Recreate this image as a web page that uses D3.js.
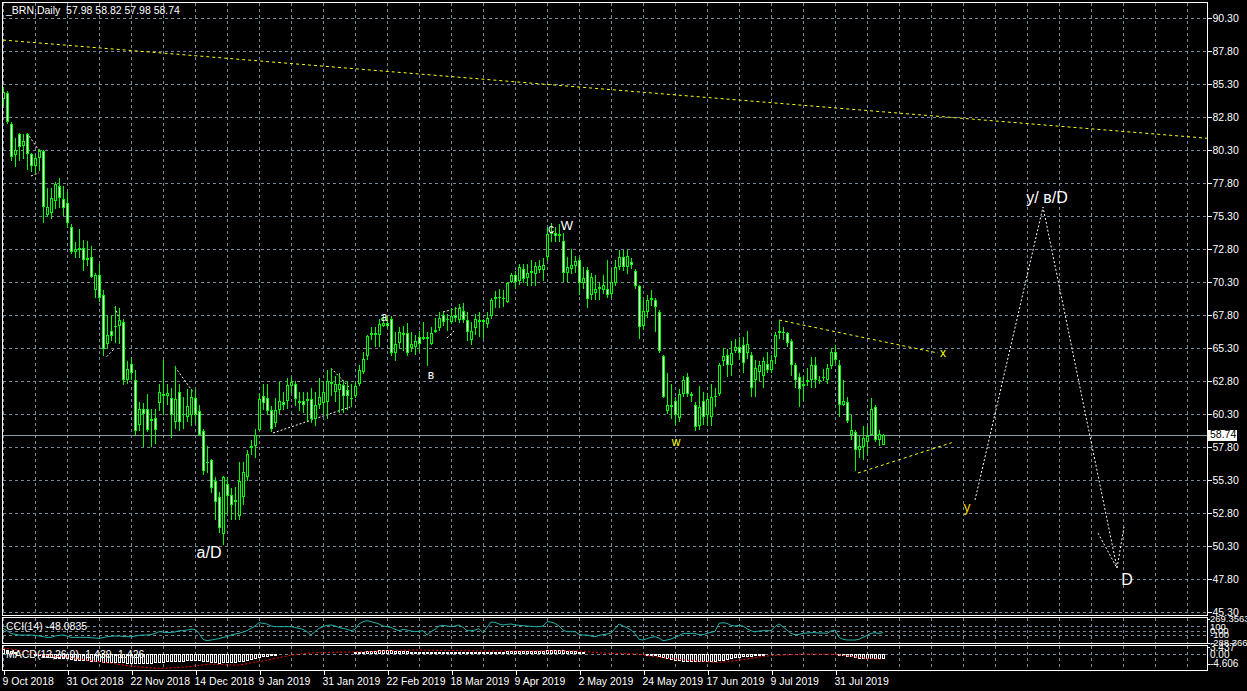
<!DOCTYPE html>
<html><head><meta charset="utf-8">
<script src="https://cdn.jsdelivr.net/npm/d3@7"></script>
<style>html,body{margin:0;padding:0;background:#000;overflow:hidden}</style>
</head><body><svg id="c" width="1247" height="691"></svg>
<script>
// ---------- DATA ----------
const title = "_BRN,Daily  57.98 58.82 57.98 58.74";
const cciLabel = "CCI(14) -48.0835";
const macdLabel = "MACD(12,26,9) -1.439 -1.426";
const lastPrice = 58.74;
// daily bars [open, high, low, close], first bar = 9 Oct 2018
const ohlc = [
[84.2,85.1,83.6,84.7],[84.6,84.8,82.3,82.4],[82.3,82.4,79.5,79.8],[79.9,81.2,79.0,80.3],[81.5,81.6,79.5,80.5],
[80.6,81.5,79.6,81.0],[81.5,81.6,78.8,80.0],[80.0,80.1,78.6,79.1],[79.1,80.0,78.5,79.7],[79.7,80.4,78.7,80.2],
[80.2,80.3,74.8,76.0],[75.4,77.4,75.2,76.0],[75.5,77.4,75.1,76.7],[76.4,77.9,75.8,77.7],[77.6,78.2,75.9,76.7],
[76.6,77.6,75.3,75.9],[76.3,77.1,74.4,74.8],[74.5,74.7,72.4,72.6],[72.6,73.3,72.1,72.8],[72.7,74.3,72.1,72.9],
[72.9,73.5,71.1,72.0],[72.1,73.4,71.5,72.0],[72.2,73.0,70.6,70.7],[69.7,71.0,69.1,70.8],[70.8,71.7,68.8,69.1],
[69.3,69.7,64.7,65.2],[65.6,67.8,65.3,66.3],[66.6,67.8,65.8,66.2],[67.0,68.5,65.7,66.9],[67.0,68.3,65.6,67.4],
[67.3,67.5,62.5,62.9],[62.9,64.3,62.6,63.7],[64.1,64.6,62.9,63.4],[62.9,63.6,58.6,59.0],[59.5,61.2,59.0,60.7],
[60.7,61.1,57.8,60.3],[60.7,61.8,58.9,59.1],[59.8,60.7,57.8,59.9],[60.0,60.7,58.0,59.1],[61.1,62.6,60.5,62.0],
[61.8,64.4,60.2,61.7],[61.7,62.6,61.0,61.9],[61.5,62.3,58.5,60.2],[59.7,63.9,59.2,61.4],[62.0,62.6,59.0,59.7],
[60.2,61.6,59.2,60.3],[60.1,62.2,59.7,60.9],[60.2,62.2,59.4,61.6],[61.5,62.2,59.6,60.2],[60.5,61.0,58.6,58.7],
[59.0,59.2,55.7,56.0],[56.7,57.9,55.8,56.6],[56.8,56.9,54.3,54.7],[55.2,55.5,52.3,53.6],[54.0,54.4,51.3,51.7],
[51.2,55.6,50.4,55.5],[55.0,55.5,52.7,54.1],[54.2,54.7,52.3,53.4],[53.8,54.8,52.3,53.6],[52.6,56.7,52.3,55.2],
[54.0,56.7,53.4,55.9],[55.5,57.6,55.2,57.3],[57.7,58.3,57.2,57.9],[57.9,59.2,57.0,58.7],[59.1,61.9,59.0,61.4],
[61.7,62.6,60.6,61.1],[61.5,62.6,60.2,60.5],[60.6,60.9,58.9,59.2],[59.6,61.5,59.3,60.6],[60.6,62.7,60.3,61.3],
[61.2,62.0,60.6,61.0],[61.3,63.0,60.7,62.5],[62.4,63.1,61.9,62.7],[62.6,62.8,60.9,61.4],[61.1,62.0,60.5,61.3],
[61.3,62.0,60.4,61.0],[61.3,62.0,59.8,61.4],[61.4,62.3,59.6,59.9],[59.9,62.0,59.4,61.0],[61.0,63.0,60.7,61.6],
[61.1,62.8,60.3,62.0],[61.2,63.6,59.9,62.8],[62.6,63.8,61.7,62.7],[62.0,63.2,61.2,62.6],[62.1,63.4,60.4,62.6],
[62.5,62.9,60.4,61.7],[62.1,62.8,60.6,61.7],[61.5,62.6,60.8,61.4],[61.7,62.7,61.5,62.4],[62.6,64.0,62.4,63.6],
[63.5,65.0,63.3,64.5],[64.7,66.3,64.4,66.2],[66.3,66.9,65.9,66.4],[66.4,66.9,65.4,66.3],[66.3,67.5,65.4,67.1],
[67.0,67.7,66.9,67.2],[67.2,67.7,66.8,67.0],[67.5,67.7,64.7,64.9],[64.9,66.5,64.3,65.6],[65.7,66.9,65.3,66.5],
[66.3,67.0,65.1,66.4],[66.4,67.2,64.7,64.9],[65.3,66.5,65.0,65.6],[65.4,66.3,64.8,65.8],[66.1,66.6,65.0,65.6],
[66.0,67.3,65.9,66.1],[66.1,66.5,63.9,66.0],[65.6,66.9,65.5,66.4],[66.5,67.6,66.4,66.7],[66.8,68.0,66.6,67.6],
[67.8,68.1,67.0,67.3],[67.4,67.9,66.6,67.5],[67.3,68.3,67.1,67.7],[67.8,68.4,67.3,67.6],[67.4,68.6,67.2,68.3],
[68.1,68.7,67.2,67.4],[67.4,68.0,65.8,66.5],[65.9,67.3,65.5,66.6],[66.8,67.9,66.3,67.5],[67.4,68.0,66.1,67.3],
[67.3,67.5,66.0,67.4],[67.1,68.0,66.8,67.6],[67.7,69.1,67.5,68.9],[69.0,69.6,68.3,69.2],[69.2,69.8,68.3,69.1],
[69.1,69.7,68.4,69.0],[68.8,70.3,68.7,70.2],[70.3,71.0,70.2,70.8],[70.8,71.1,69.8,70.3],[70.4,71.7,70.1,71.4],
[71.3,71.7,70.2,70.5],[70.6,71.7,70.0,71.0],[71.0,72.0,70.0,71.1],[70.9,71.8,70.0,71.5],[71.2,72.0,71.0,71.5],
[71.2,72.1,70.4,71.6],[72.2,74.5,71.9,73.9],[73.9,74.8,73.3,74.1],[74.0,74.5,73.3,73.8],[73.9,74.7,73.3,73.8],
[73.4,74.0,70.3,71.0],[71.0,72.2,70.3,71.4],[71.3,72.8,70.9,71.6],[71.5,72.3,71.0,71.9],[72.0,72.2,69.3,70.2],
[70.2,71.4,69.8,70.6],[71.2,71.4,68.3,69.0],[69.3,71.0,68.9,70.7],[69.5,70.8,68.9,69.8],[69.8,70.3,68.9,69.9],
[69.7,70.8,69.4,70.1],[69.8,72.0,69.1,69.3],[69.4,71.3,69.1,70.3],[70.2,72.0,70.0,71.4],[71.4,72.7,71.2,72.2],
[72.2,72.7,71.1,71.4],[71.4,72.7,70.9,72.3],[71.8,72.1,71.3,71.6],[71.1,71.3,69.8,70.0],[70.0,70.1,66.0,66.9],
[67.0,68.9,66.7,68.1],[68.0,69.3,67.6,68.9],[68.9,69.7,68.5,69.1],[68.9,69.1,66.5,68.4],[68.0,68.2,64.9,65.1],
[64.7,64.8,61.5,61.6],[60.5,63.4,60.3,61.0],[61.0,62.6,59.9,60.8],[61.3,61.6,59.5,60.2],[60.0,62.2,59.7,61.8],
[61.8,63.2,61.6,62.9],[63.1,63.4,61.6,61.8],[61.8,62.0,61.2,61.7],[61.0,61.2,59.0,59.3],[59.4,62.4,59.1,60.8],
[61.3,62.0,59.5,60.1],[60.2,61.9,59.4,61.4],[60.1,62.6,59.4,61.6],[61.6,62.3,60.8,61.7],[61.8,64.2,61.7,64.0],
[64.3,65.3,63.9,64.7],[64.8,65.2,63.1,64.0],[64.0,65.8,63.2,64.9],[65.1,66.0,64.9,65.4],[65.4,66.1,64.4,64.9],
[65.5,66.1,63.4,64.2],[64.9,66.6,64.5,65.6],[64.8,65.0,61.6,62.3],[62.9,64.4,61.6,63.8],[63.5,64.3,62.7,64.0],
[63.2,64.6,62.3,64.3],[64.1,65.0,63.4,63.6],[63.6,64.8,63.4,64.4],[64.6,66.5,64.1,66.3],[66.4,67.4,66.0,66.6],
[66.5,66.9,65.9,66.4],[66.4,66.5,65.4,65.7],[65.8,66.0,63.2,64.0],[64.0,64.2,62.3,62.9],[63.1,63.4,60.8,62.2],
[62.4,63.2,61.3,62.6],[62.7,63.8,62.4,62.9],[62.9,64.6,62.3,64.0],[64.0,64.6,62.3,62.9],[62.9,63.2,62.6,62.8],
[63.0,63.7,62.8,63.1],[62.9,64.1,62.6,63.8],[63.9,65.3,63.7,65.0],[65.0,65.5,64.2,64.4],[64.0,64.4,60.1,61.0],
[61.0,62.9,60.9,61.3],[61.2,61.6,59.6,59.8],[58.7,60.2,58.3,59.1],[58.9,59.1,56.0,57.6],[57.6,58.6,57.0,57.9],
[57.8,59.4,56.8,58.5],[58.2,59.4,57.3,58.6],[58.7,61.5,58.7,60.7],[60.8,61.0,58.2,58.3],[58.3,59.1,57.9,58.8],
[57.98,58.82,57.98,58.74]
];
const cci = [
52,-2,-64,-87,-103,-103,-103,-103,-111,-126,-142,-157,-157,-126,-111,-103,-126,-157,-157,-157,
-157,-157,-165,-173,-180,-165,-142,-134,-126,-126,-134,-142,-142,-126,-111,-103,-103,-95,-64,-25,
-33,-49,-41,-33,-2,-2,13,29,29,-64,-203,-235,-219,-203,-188,-157,-142,-103,-80,-64,
-33,-2,52,106,184,168,153,106,91,91,91,91,91,75,52,29,-25,-103,-25,52,
91,122,130,106,75,52,29,-2,29,153,207,230,207,184,153,106,91,75,29,-2,
29,13,-10,-25,-18,-2,-103,-25,29,106,122,106,91,106,130,75,-2,-2,13,44,
-49,75,199,192,153,130,145,153,130,122,114,106,99,91,91,106,207,199,168,106,
13,-25,-25,-25,-87,-103,-103,-126,-142,-111,-95,-80,-56,44,153,106,68,13,-64,-203,
-219,-188,-157,-142,-173,-235,-219,-196,-157,-118,-64,-64,-64,-64,-95,-95,-64,-41,-18,168,
184,168,122,106,122,106,44,-2,-33,-10,-2,-2,-2,91,153,91,13,-64,-95,-87,
-64,-56,-49,-49,-56,-56,-64,-10,13,-157,-203,-219,-219,-219,-203,-157,-111,-64,-49,-64,-48
];
const macd = [
2.4,2.0,1.6,1.2,0.8,0.4,0.0,-0.4,-0.8,-1.1,-1.5,-1.8,-2.0,-2.2,-2.3,-2.4,
-2.6,-2.9,-3.1,-3.3,-3.4,-3.5,-3.7,-3.9,-4.0,-4.3,-4.4,-4.4,-4.4,-4.4,-4.5,-4.6,
-4.7,-4.9,-4.9,-4.8,-4.7,-4.6,-4.4,-4.2,-4.1,-4.0,-3.9,-3.8,-3.7,-3.6,-3.5,-3.4,
-3.4,-3.5,-3.8,-4.0,-4.2,-4.4,-4.6,-4.4,-4.4,-4.3,-4.2,-3.9,-3.6,-3.2,-2.8,-2.4,
-1.9,-1.5,-1.2,-1.0,-0.8,-0.6,-0.4,-0.2,0.0,0.1,0.2,0.2,0.3,0.3,0.3,0.4,
0.5,0.6,0.7,0.7,0.8,0.8,0.8,0.8,0.9,1.0,1.2,1.4,1.6,1.7,1.8,1.9,
1.9,1.8,1.7,1.6,1.5,1.4,1.3,1.2,1.2,1.1,1.1,1.1,1.1,1.2,1.2,1.2,
1.2,1.2,1.3,1.3,1.2,1.1,1.1,1.1,1.1,1.1,1.2,1.3,1.3,1.3,1.4,1.5,
1.5,1.5,1.6,1.6,1.6,1.6,1.6,1.6,1.8,1.9,2.0,2.0,1.8,1.6,1.5,1.4,
1.2,1.0,0.8,0.6,0.5,0.4,0.3,0.2,0.2,0.3,0.4,0.4,0.4,0.3,0.1,-0.3,
-0.6,-0.8,-0.9,-1.1,-1.5,-2.1,-2.6,-3.0,-3.3,-3.5,-3.6,-3.7,-3.8,-3.9,-4.0,-4.0,
-4.0,-3.9,-3.8,-3.5,-3.1,-2.8,-2.5,-2.1,-1.8,-1.6,-1.3,-1.2,-1.1,-0.9,-0.7,-0.6,
-0.5,-0.2,0.0,0.1,0.1,0.0,-0.2,-0.3,-0.4,-0.5,-0.5,-0.5,-0.6,-0.6,-0.5,-0.4,
-0.4,-0.7,-1.0,-1.3,-1.6,-2.0,-2.3,-2.4,-2.5,-2.5,-2.4,-2.4,-2.3
];
const signal = [
2.8,2.7,2.5,2.2,1.9,1.5,1.1,0.7,0.3,-0.1,-0.4,-0.7,-0.9,-1.1,-1.2,-1.3,
-1.4,-1.7,-2.0,-2.3,-2.6,-2.9,-3.1,-3.4,-3.6,-3.9,-4.2,-4.4,-4.7,-5.0,-5.3,-5.6,
-5.8,-6.0,-6.2,-6.4,-6.5,-6.7,-6.8,-6.9,-6.9,-6.8,-6.7,-6.6,-6.5,-6.3,-6.2,-6.0,
-5.7,-5.5,-5.2,-5.0,-4.8,-4.9,-5.0,-5.1,-5.2,-5.3,-5.3,-5.3,-5.0,-4.6,-4.2,-3.9,
-3.7,-3.3,-2.9,-2.5,-2.1,-1.7,-1.3,-0.9,-0.5,-0.2,0.1,0.3,0.5,0.6,0.6,0.7,
0.7,0.8,0.8,0.9,0.9,1.0,1.0,1.1,1.1,1.1,1.2,1.2,1.3,1.4,1.5,1.6,
1.7,1.8,1.8,1.9,1.9,2.0,2.0,2.0,2.0,2.0,1.9,1.9,1.9,1.8,1.8,1.8,
1.8,1.7,1.7,1.7,1.7,1.7,1.6,1.6,1.6,1.6,1.6,1.6,1.6,1.6,1.6,1.6,
1.6,1.6,1.6,1.6,1.6,1.6,1.6,1.6,1.6,1.6,1.6,1.6,1.6,1.6,1.6,1.6,
1.6,1.4,1.2,1.0,0.8,0.7,0.6,0.5,0.4,0.4,0.3,0.3,0.2,0.2,0.1,0.0,
-0.3,-0.6,-0.9,-1.2,-1.5,-1.8,-2.0,-2.2,-2.4,-2.6,-2.8,-2.9,-3.1,-3.2,-3.4,-3.5,
-3.7,-3.8,-4.0,-3.9,-3.8,-3.7,-3.5,-3.2,-2.9,-2.6,-2.3,-2.0,-1.7,-1.4,-1.1,-0.9,
-0.7,-0.6,-0.5,-0.4,-0.3,-0.2,-0.1,0.0,0.0,0.0,0.0,0.0,0.0,0.0,0.0,0.0,
-0.2,-0.4,-0.6,-0.8,-1.0,-1.3,-1.6,-1.8,-2.0,-2.1,-2.3,-2.4,-2.5
];
const priceTicks = [90.30,87.80,85.30,82.80,80.30,77.80,75.30,72.80,70.30,67.80,65.30,62.80,60.30,57.80,55.30,52.80,50.30,47.80,45.30];
const dateLabels = ["9 Oct 2018","31 Oct 2018","22 Nov 2018","14 Dec 2018","9 Jan 2019","31 Jan 2019","22 Feb 2019","18 Mar 2019","9 Apr 2019","2 May 2019","24 May 2019","17 Jun 2019","9 Jul 2019","31 Jul 2019"];
const dateLabelBars = [0,16,32,48,64,80,96,112,128,144,160,176,192,208];
const cciLevels = [100,0,-100];
const cciAxisLabels = [["269.3563",269.3563],["100",100],["0.00",0],["-100",-100],["-288.366",-288.366]];
const macdAxisLabels = [["3.437",3.437],["0.00",0],["-4.606",-4.606]];
// drawn objects in [bar index, price]
const yellowTrends = [
  [[0,88.63],[301,81.19]],
  [[194,67.42],[233.75,64.92]],
  [[213.75,55.83],[237.2,58.13]]
];
const whiteWaveLines = [
  [[6,81.59],[9.25,80.15]],[[7,78.33],[9,78.58]],[[28,68.41],[29.4,67.19]],[[25.9,64.64],[28,65.30]],
  [[43,63.86],[47.5,61.97]],[[67.5,58.86],[86.75,60.83]],[[82,63.78],[86.75,62.27]],
  [[110,68.03],[115,68.41]],[[111,66.06],[113,66.66]]
];
const projection = [
  [[243,53.78],[260,75.98],[278.5,48.63]],
  [[273.75,51.28],[278.5,48.63],[280.25,51.74]]
];
const waveLabels = [
  {t:"a/D", i:51.5, p:49.85, kind:"big"},
  {t:"c", i:137, p:74.30, kind:"small"},
  {t:"W", i:141, p:74.55, kind:"mid"},
  {t:"a", i:95.25, p:67.65, kind:"small"},
  {t:"в", i:107, p:63.30, kind:"small"},
  {t:"w", i:168.25, p:58.18, kind:"yellow"},
  {t:"x", i:235, p:64.92, kind:"yellow"},
  {t:"y", i:241, p:53.26, kind:"yellowBig"},
  {t:"y/ в/D", i:261, p:76.74, kind:"big"},
  {t:"D", i:281, p:47.80, kind:"big"}
];

// ---------- DRAW ----------
const FONT = "Liberation Sans, Arial, sans-serif";
const svg = d3.select("#c");
svg.append("rect").attr("width",1247).attr("height",691).attr("fill","#000");

const x = d3.scaleLinear().domain([0,301]).range([3,1207]);
const y = d3.scaleLinear().domain([45.30,90.30]).range([612,18]);
const yC = d3.scaleLinear().domain([-288.366,269.3563]).range([643,619]);
const yM = d3.scaleLinear().domain([-7,3.5]).range([668.5,647]);
const px = v => Math.round(v)+0.5;

const panels = [[3,615],[618,643],[646,670]];
const gridColor = "#778899";
const grid = svg.append("g").attr("stroke",gridColor).attr("stroke-dasharray","3,3").attr("shape-rendering","crispEdges");
d3.range(0,297,8).forEach(i=>{
  panels.forEach(([a,b])=>{
    grid.append("line").attr("x1",px(x(i))).attr("x2",px(x(i))).attr("y1",a).attr("y2",b);
  });
});
priceTicks.forEach(p=>{
  grid.append("line").attr("x1",3).attr("x2",1207).attr("y1",px(y(p))).attr("y2",px(y(p)));
});
cciLevels.forEach(v=>{
  grid.append("line").attr("x1",3).attr("x2",1207).attr("y1",px(yC(v))).attr("y2",px(yC(v)));
});
grid.append("line").attr("x1",3).attr("x2",1207).attr("y1",px(yM(0))).attr("y2",px(yM(0)));

// last price line
svg.append("line").attr("x1",3).attr("x2",1207).attr("y1",px(y(lastPrice))).attr("y2",px(y(lastPrice)))
  .attr("stroke","#8a9aaa").attr("shape-rendering","crispEdges");

const line = d3.line().x(d=>x(d[0])).y(d=>y(d[1]));
svg.append("clipPath").attr("id","cm").append("rect").attr("x",3).attr("y",3).attr("width",1204).attr("height",612);
const gMain = svg.append("g").attr("clip-path","url(#cm)");
yellowTrends.forEach(t=>{
  gMain.append("path").attr("d",line(t)).attr("fill","none").attr("stroke","#ffff00").attr("stroke-width",1).attr("stroke-dasharray","3,3");
});
whiteWaveLines.forEach(t=>{
  gMain.append("path").attr("d",line(t)).attr("fill","none").attr("stroke","#ffffff").attr("stroke-width",1).attr("stroke-dasharray","2,2");
});
projection.forEach(t=>{
  gMain.append("path").attr("d",line(t)).attr("fill","none").attr("stroke","#ffffff").attr("stroke-width",1).attr("stroke-dasharray","2,2");
});

// candles
const gC = gMain.append("g").attr("shape-rendering","crispEdges");
ohlc.forEach((d,i)=>{
  const [o,h,l,c] = d;
  const cx = Math.round(x(i));
  const yh = Math.round(y(h)), yl = Math.round(y(l));
  gC.append("rect").attr("x",cx).attr("y",yh).attr("width",1).attr("height",Math.max(1,yl-yh)).attr("fill","#00ff00");
  const yt = Math.round(y(Math.max(o,c))), yb = Math.round(y(Math.min(o,c)));
  const bh = Math.max(1,yb-yt);
  gC.append("rect").attr("x",cx-1).attr("y",yt).attr("width",3).attr("height",bh).attr("fill","#00ff00");
  if (bh>=3) {
    gC.append("rect").attr("x",cx).attr("y",yt+1).attr("width",1).attr("height",bh-2)
      .attr("fill", c<o ? "#ffffff" : "#000000");
  }
});

// wave labels
const labelStyle = {
  big:{size:16,color:"#ffffff"}, mid:{size:13,color:"#ffffff"}, small:{size:12,color:"#ffffff"},
  yellow:{size:12,color:"#ffff00"}, yellowBig:{size:14,color:"#e8d000"}
};
waveLabels.forEach(l=>{
  const s = labelStyle[l.kind];
  svg.append("text").attr("x",x(l.i)).attr("y",y(l.p)).attr("dy","0.35em").attr("text-anchor","middle")
    .attr("font-family",FONT).attr("font-size",s.size).attr("fill",s.color).text(l.t);
});

// CCI line
svg.append("path").datum(cci).attr("d",d3.line().x((d,i)=>x(i)).y(d=>yC(d)))
  .attr("fill","none").attr("stroke","#20b2aa").attr("stroke-width",1);

// MACD histogram
const gM = svg.append("g").attr("shape-rendering","crispEdges");
macd.forEach((v,i)=>{
  const cx = Math.round(x(i));
  const y0 = Math.round(yM(0)), y1 = Math.round(yM(v));
  const top = Math.min(y0,y1), hh = Math.abs(y1-y0);
  if (hh<1) return;
  gM.append("rect").attr("x",cx-0.5).attr("y",top+0.5).attr("width",2).attr("height",Math.max(0,hh-1))
    .attr("fill","#000").attr("stroke","#ffffff").attr("stroke-width",1);
});
gM.append("path").datum(signal).attr("d",d3.line().x((d,i)=>x(i)).y(d=>yM(d)))
  .attr("fill","none").attr("stroke","#ff0000").attr("stroke-width",1).attr("stroke-dasharray","2,2").attr("shape-rendering","auto");

// frames
const fr = svg.append("g").attr("fill","none").attr("stroke","#ffffff").attr("shape-rendering","crispEdges");
fr.append("rect").attr("x",2.5).attr("y",2.5).attr("width",1205).attr("height",613);
fr.append("rect").attr("x",2.5).attr("y",617.5).attr("width",1205).attr("height",26);
fr.append("rect").attr("x",2.5).attr("y",645.5).attr("width",1205).attr("height",25);

// price axis
const ax = svg.append("g").attr("transform","translate(1207.5,0)")
  .call(d3.axisRight(y).tickValues(priceTicks).tickFormat(d3.format(".2f")).tickSize(4).tickPadding(1));
ax.select(".domain").remove();
ax.selectAll("line").attr("stroke","#fff").attr("shape-rendering","crispEdges");
ax.selectAll("text").attr("fill","#fff").attr("font-family",FONT).attr("font-size",10.5);

// last price box
svg.append("rect").attr("x",1208).attr("y",Math.round(y(lastPrice))-5).attr("width",29).attr("height",11).attr("fill","#fff");
svg.append("text").attr("x",1210).attr("y",y(lastPrice)).attr("dy","0.35em").attr("font-family",FONT).attr("font-size",10.5)
  .attr("fill","#000").text(lastPrice.toFixed(2));

// sub-window axis labels (overlapping as in the terminal)
cciAxisLabels.forEach(([t,v])=>{
  svg.append("text").attr("x",1210).attr("y",yC(v)).attr("dy","0.35em").attr("font-family",FONT).attr("font-size",9.5)
    .attr("fill","#fff").text(t);
});
macdAxisLabels.forEach(([t,v])=>{
  svg.append("text").attr("x",1210).attr("y",yM(v)).attr("dy","0.35em").attr("font-family",FONT).attr("font-size",10)
    .attr("fill","#fff").text(t);
});
[yC(269.3563), yC(-288.366), yM(3.437), yM(-4.606)].forEach(v=>{
  svg.append("line").attr("x1",1207).attr("x2",1210).attr("y1",px(v)).attr("y2",px(v)).attr("stroke","#fff").attr("shape-rendering","crispEdges");
});

// date axis
const dx = svg.append("g").attr("transform","translate(0,670.5)")
  .call(d3.axisBottom(x).tickValues(dateLabelBars).tickFormat((d,i)=>dateLabels[i]).tickSize(4).tickPadding(3));
dx.select(".domain").remove();
dx.selectAll("line").attr("stroke","#fff").attr("shape-rendering","crispEdges").attr("transform","translate(0.5,0)");
dx.selectAll("text").attr("fill","#fff").attr("font-family",FONT).attr("font-size",10.5).attr("text-anchor","start").attr("dx",-1);

// titles
svg.append("text").attr("x",6).attr("y",14).attr("font-family",FONT).attr("font-size",10.5).attr("fill","#fff")
  .attr("xml:space","preserve").style("white-space","pre").text(title);
svg.append("text").attr("x",6).attr("y",630).attr("font-family",FONT).attr("font-size",10.5).attr("fill","#fff").text(cciLabel);
svg.append("text").attr("x",6).attr("y",658).attr("font-family",FONT).attr("font-size",10.5).attr("fill","#fff").text(macdLabel);
</script>
</body></html>
